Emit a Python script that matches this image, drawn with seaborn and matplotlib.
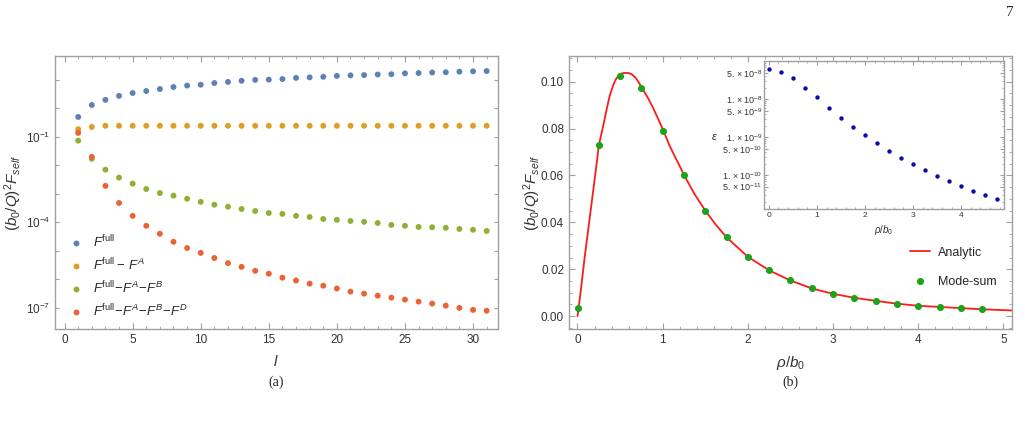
"""
Self-force mode-sum figure: convergence in l (a) and analytic comparison (b)
"""
import matplotlib
matplotlib.use("Agg")
import matplotlib.pyplot as plt
from matplotlib.ticker import FixedLocator, FixedFormatter, MultipleLocator, NullLocator, NullFormatter
import seaborn as sns
import pandas as pd

# ---- panel (a): log10 of (b0/Q)^2 F_self vs l ----
l_vals = list(range(1, 32))
log_full = [-0.31, 0.11, 0.29, 0.43, 0.53, 0.60, 0.67, 0.74, 0.79, 0.82, 0.88, 0.92,
            0.96, 0.99, 1.00, 1.02, 1.06, 1.08, 1.10, 1.13, 1.15, 1.16, 1.18, 1.19,
            1.22, 1.23, 1.25, 1.26, 1.28, 1.29, 1.30]
log_minus_a = [-0.74, -0.66] + [-0.62] * 29
log_minus_ab = [-1.14, -1.78, -2.16, -2.44, -2.65, -2.84, -2.98, -3.07, -3.18, -3.29,
                -3.39, -3.46, -3.54, -3.61, -3.68, -3.71, -3.78, -3.82, -3.89, -3.92,
                -3.96, -3.99, -4.03, -4.10, -4.13, -4.17, -4.18, -4.20, -4.24, -4.27, -4.31]
log_minus_abd = [-0.87, -1.71, -2.73, -3.33, -3.78, -4.13, -4.41, -4.69, -4.91, -5.08,
                 -5.26, -5.44, -5.57, -5.71, -5.81, -5.95, -6.05, -6.16, -6.23, -6.33,
                 -6.44, -6.51, -6.58, -6.65, -6.72, -6.79, -6.86, -6.93, -7.01, -7.08, -7.11]
series_labels = [r'$F^{\rm full}$', r'$F^{\rm full}-\,F^{A}$',
                 r'$F^{\rm full}\!-\!F^{A}\!-\!F^{B}$',
                 r'$F^{\rm full}\!-\!F^{A}\!-\!F^{B}\!-\!F^{D}$']
series_colors = ['#5E81B5', '#E19C24', '#8FB032', '#EB6235']

# ---- panel (b): analytic curve and mode-sum points ----
rho_analytic = [0.0, 0.035, 0.08, 0.13, 0.18, 0.23, 0.25, 0.30, 0.34, 0.38, 0.42, 0.45,
                0.48, 0.51, 0.535, 0.575, 0.61, 0.635, 0.66, 0.69, 0.72, 0.76, 0.83,
                0.89, 0.95, 1.01, 1.08, 1.14, 1.2, 1.25, 1.375, 1.5, 1.625, 1.75, 2.0,
                2.25, 2.5, 2.75, 3.0, 3.25, 3.5, 3.75, 4.0, 4.25, 4.5, 4.75, 5.1]
f_analytic = [0.0, 0.0097, 0.0239, 0.0381, 0.0523, 0.0666, 0.0729, 0.0808, 0.0879,
              0.0943, 0.0986, 0.1010, 0.1026, 0.1034, 0.1037, 0.1038, 0.1036, 0.1032,
              0.1025, 0.1013, 0.0996, 0.0972, 0.0929, 0.0886, 0.0839, 0.0790, 0.0728,
              0.0683, 0.0640, 0.0602, 0.0520, 0.0450, 0.0389, 0.0336, 0.0253, 0.0195,
              0.0152, 0.0118, 0.0095, 0.0078, 0.0065, 0.0053, 0.0044, 0.0039, 0.0034,
              0.0029, 0.0024]
rho_mode = [0.01, 0.25, 0.5, 0.75, 1.0, 1.25, 1.5, 1.75, 2.0, 2.25, 2.5, 2.75, 3.0,
            3.25, 3.5, 3.75, 4.0, 4.25, 4.5, 4.75]
f_mode = [0.0034, 0.0729, 0.1026, 0.0974, 0.0791, 0.0602, 0.0450, 0.0336, 0.0253,
          0.0195, 0.0152, 0.0118, 0.0095, 0.0078, 0.0065, 0.0053, 0.0044, 0.0040,
          0.0034, 0.0029]
log_eps = [-7.20, -7.28, -7.45, -7.69, -7.95, -8.24, -8.50, -8.73, -8.95, -9.16,
           -9.35, -9.54, -9.70, -9.86, -10.02, -10.16, -10.28, -10.41, -10.52, -10.64]

inset_tick_vals = [5e-8, 1e-8, 5e-9, 1e-9, 5e-10, 1e-10, 5e-11]
inset_tick_labels = [r'$5.\times10^{-8}$', r'$1.\times10^{-8}$', r'$5.\times10^{-9}$',
                     r'$1.\times10^{-9}$', r'$5.\times10^{-10}$', r'$1.\times10^{-10}$',
                     r'$5.\times10^{-11}$']

sns.set_style('ticks')
plt.rcParams['font.family'] = ['Liberation Sans', 'DejaVu Sans']
plt.rcParams['mathtext.fontset'] = 'custom'
plt.rcParams['mathtext.it'] = 'Liberation Sans:italic'
plt.rcParams['mathtext.rm'] = 'Liberation Sans'
plt.rcParams['mathtext.bf'] = 'Liberation Sans:bold'

FRAME = '#A0A0A0'
TEXT = '#333333'


def style_frame(ax, size=8.5, major=4, minor=2):
    for sp in ax.spines.values():
        sp.set_color(FRAME)
        sp.set_linewidth(1.0)
    ax.tick_params(which='both', direction='in', top=True, right=True,
                   color=FRAME, labelcolor=TEXT, labelsize=size)
    ax.tick_params(which='major', length=major, width=0.8)
    ax.tick_params(which='minor', length=minor, width=0.6)


fig = plt.figure(figsize=(10.25, 4.24), dpi=100)

# ---------------- (a) ----------------
rows = []
for lab, vals in zip(series_labels, [log_full, log_minus_a, log_minus_ab, log_minus_abd]):
    for l, v in zip(l_vals, vals):
        rows.append({'l': l, 'value': 10.0 ** v, 'series': lab})
df_a = pd.DataFrame(rows)

ax1 = fig.add_axes([0.0537, 0.2241, 0.4317, 0.6439])
sns.scatterplot(data=df_a, x='l', y='value', hue='series', hue_order=series_labels,
                palette=series_colors, s=18, linewidth=0, ax=ax1)
ax1.set_yscale('log')
ax1.set_xlim(-0.7, 31.8)
ax1.set_ylim(10 ** -7.75, 10 ** 1.83)
style_frame(ax1)
ax1.xaxis.set_major_locator(MultipleLocator(5))
ax1.xaxis.set_minor_locator(MultipleLocator(1))
decades = [10.0 ** k for k in range(-7, 2)]
ax1.yaxis.set_major_locator(FixedLocator(decades))
ax1.yaxis.set_major_formatter(FixedFormatter(
    [r'$10^{-7}$' if k == -7 else r'$10^{-4}$' if k == -4 else r'$10^{-1}$' if k == -1 else ''
     for k in range(-7, 2)]))
ax1.yaxis.set_minor_locator(NullLocator())
ax1.yaxis.set_minor_formatter(NullFormatter())
ax1.tick_params(axis='y', which='major', length=3)
ax1.set_xlabel('$l$', fontsize=11, color=TEXT, labelpad=6)
ax1.set_ylabel(r'$(b_0/Q)^2F_{self}$', fontsize=11, color=TEXT, va='center')
ax1.yaxis.set_label_coords(-0.095, 0.5)
handles, labels = ax1.get_legend_handles_labels()
ax1.legend(handles, labels, loc='lower left', bbox_to_anchor=(0.005, -0.005),
           frameon=False, fontsize=9.5, handletextpad=0.7, labelspacing=0.5,
           markerscale=1.0, borderpad=0.3, handlelength=1.2)

# ---------------- (b) ----------------
df_line = pd.DataFrame({'rho': rho_analytic, 'f': f_analytic})
df_mode = pd.DataFrame({'rho': rho_mode, 'f': f_mode})

ax2 = fig.add_axes([0.5551, 0.2241, 0.4322, 0.6439])
sns.lineplot(data=df_line, x='rho', y='f', color='#FF1A1A', lw=1.3, ax=ax2,
             label='Analytic', sort=False)
sns.scatterplot(data=df_mode, x='rho', y='f', color='#1BA31B', s=26, linewidth=0,
                ax=ax2, label='Mode-sum', zorder=3)
ax2.set_xlim(-0.1, 5.1)
ax2.set_ylim(-0.0055, 0.111)
style_frame(ax2)
ax2.xaxis.set_major_locator(MultipleLocator(1))
ax2.xaxis.set_minor_locator(MultipleLocator(0.2))
ax2.set_yticks([0.0, 0.02, 0.04, 0.06, 0.08, 0.10])
ax2.set_yticklabels(['0.00', '0.02', '0.04', '0.06', '0.08', '0.10'])
ax2.yaxis.set_minor_locator(MultipleLocator(0.005))
ax2.set_xlabel(r'$\rho/b_0$', fontsize=11, color=TEXT, labelpad=6)
ax2.set_ylabel(r'$(b_0/Q)^2F_{self}$', fontsize=11, color=TEXT, va='center')
ax2.yaxis.set_label_coords(-0.084, 0.5)
ax2.legend(loc='lower left', bbox_to_anchor=(0.745, 0.11), frameon=False,
           fontsize=9, handlelength=1.6, handletextpad=0.6, labelspacing=1.35)

# ---------------- inset ----------------
df_eps = pd.DataFrame({'rho': rho_mode, 'eps': [10.0 ** v for v in log_eps]})
ax3 = fig.add_axes([0.7454, 0.5071, 0.2341, 0.3483])
ax3.set_facecolor('white')
sns.scatterplot(data=df_eps, x='rho', y='eps', color='#0A0AA8', s=10, linewidth=0, ax=ax3)
ax3.set_yscale('log')
ax3.set_xlim(-0.1, 4.89)
ax3.set_ylim(10 ** -10.89, 10 ** -7.0)
style_frame(ax3, size=6, major=3, minor=1.5)
ax3.xaxis.set_major_locator(MultipleLocator(1))
ax3.xaxis.set_minor_locator(MultipleLocator(0.2))
ax3.yaxis.set_major_locator(FixedLocator(inset_tick_vals))
ax3.yaxis.set_major_formatter(FixedFormatter(inset_tick_labels))
minor_vals = [m * 10.0 ** k for k in range(-11, -7) for m in range(2, 10) if m != 5]
ax3.yaxis.set_minor_locator(FixedLocator(minor_vals))
ax3.yaxis.set_minor_formatter(NullFormatter())
ax3.tick_params(axis='x', labelsize=6, pad=2)
ax3.tick_params(axis='y', labelsize=6.5, pad=1.5)
ax3.set_xlabel(r'$\rho/b_0$', fontsize=7, color=TEXT, labelpad=3)
ax3.set_ylabel(r'$\varepsilon$', fontsize=8, color=TEXT, rotation=0, va='center', ha='center')
ax3.yaxis.set_label_coords(-0.205, 0.49)

# captions and page number
fig.text(276 / 1025, 1 - 382 / 424, '(a)', family=['Liberation Serif', 'DejaVu Serif'],
         fontsize=10, ha='center', va='center')
fig.text(790 / 1025, 1 - 382 / 424, '(b)', family=['Liberation Serif', 'DejaVu Serif'],
         fontsize=10, ha='center', va='center')
fig.text(1010 / 1025, 1 - 12 / 424, '7', family=['Liberation Serif', 'DejaVu Serif'],
         fontsize=11, ha='center', va='center')

fig.savefig('out.png', dpi=100, facecolor='white')
plt.close(fig)
